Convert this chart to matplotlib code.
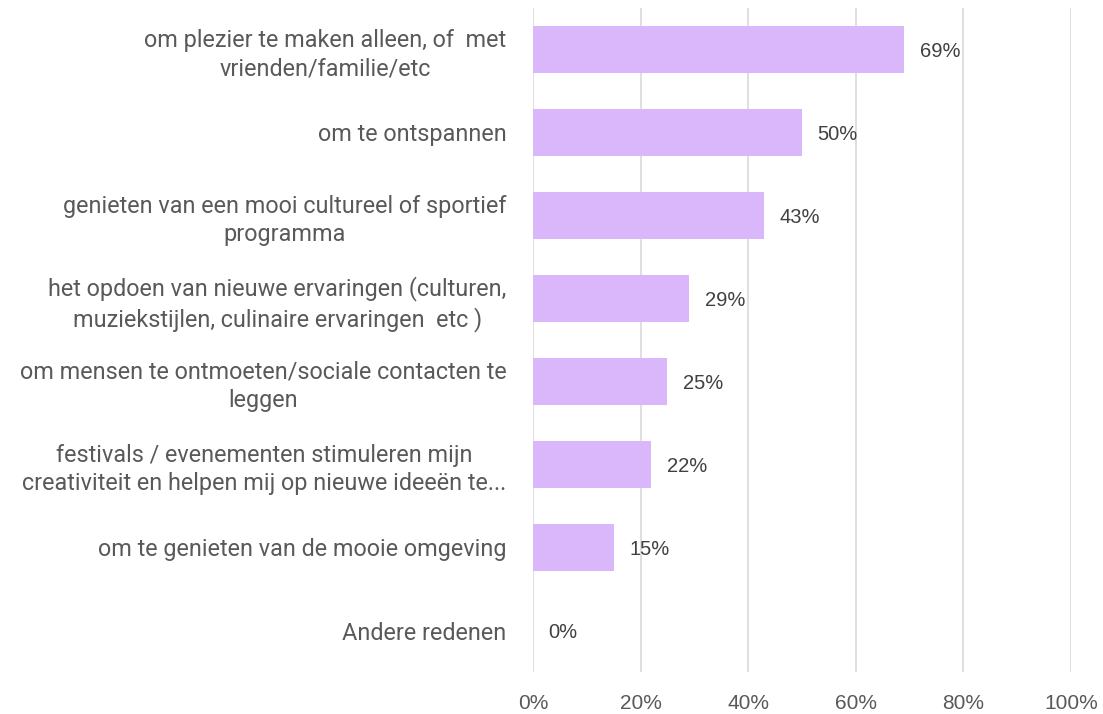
import numpy as np
import matplotlib.pyplot as plt

categories = [
    "om plezier te maken alleen, of  met\nvrienden/familie/etc",
    "om te ontspannen",
    "genieten van een mooi cultureel of sportief\nprogramma",
    "het opdoen van nieuwe ervaringen (culturen,\nmuziekstijlen, culinaire ervaringen  etc )",
    "om mensen te ontmoeten/sociale contacten te\nleggen",
    "festivals / evenementen stimuleren mijn\ncreativiteit en helpen mij op nieuwe ideeën te...",
    "om te genieten van de mooie omgeving",
    "Andere redenen",
]
values = [0.69, 0.50, 0.43, 0.29, 0.25, 0.22, 0.15, 0.00]
xticks = [0, 0.2, 0.4, 0.6, 0.8, 1.0]
xticklabels = ["0%", "20%", "40%", "60%", "80%", "100%"]

txt = "#595959"
plt.rcParams['font.family'] = ['Roboto', 'DejaVu Sans']

fig = plt.figure(figsize=(11.03, 7.14), dpi=100)
ax = fig.add_axes([0.4832, 0.0588, 0.4878, 0.9302])

y = np.arange(len(categories))
ax.barh(y, values, height=0.56, color="#DAB6FA", zorder=2)
for yi, v in zip(y, values):
    ax.text(v + 0.029, yi + 0.02, f"{v*100:.0f}%", va="center", ha="left",
            fontsize=14.5, color="#404040", family=["Liberation Sans", "DejaVu Sans"])

ax.set_xlim(0, 1.0)
ax.set_ylim(len(categories) - 0.5, -0.5)
ax.set_xticks(xticks)
ax.set_xticklabels(xticklabels, fontsize=15, color=txt,
                   family=["Liberation Sans", "DejaVu Sans"])
ax.set_yticks(y)
ax.set_yticklabels(categories, fontsize=16.8, color=txt, linespacing=1.3)
for lbl in ax.get_yticklabels():
    lbl.set_multialignment("center")
ax.tick_params(axis="both", length=0)
ax.tick_params(axis="y", pad=19)
ax.tick_params(axis="x", pad=16)
ax.grid(axis="x", color="#D9D9D9", linewidth=1.2, zorder=0)
for s in ax.spines.values():
    s.set_visible(False)

fig.savefig("out.png", dpi=100)
